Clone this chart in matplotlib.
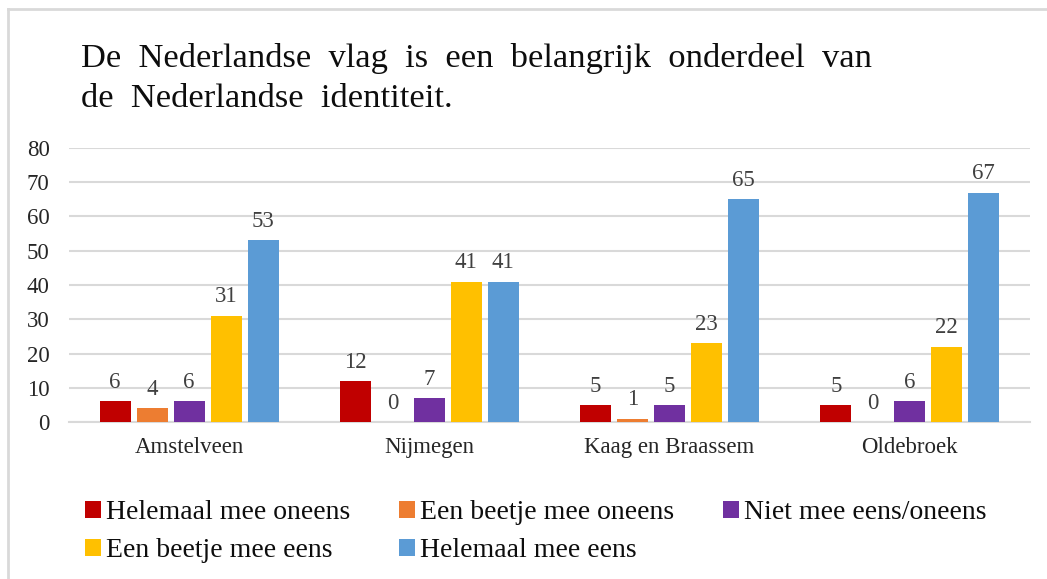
import numpy as np
import matplotlib.pyplot as plt
from matplotlib.lines import Line2D

plt.rcParams['font.family'] = ['Liberation Serif', 'DejaVu Serif']

# Gegevens
gemeenten = ['Amstelveen', 'Nijmegen', 'Kaag en Braassem', 'Oldebroek']
antwoorden = ['Helemaal mee oneens', 'Een beetje mee oneens', 'Niet mee eens/oneens',
              'Een beetje mee eens', 'Helemaal mee eens']
helemaal_oneens = [6, 12, 5, 5]
beetje_oneens = [4, 0, 1, 0]
neutraal = [6, 7, 5, 6]
beetje_eens = [31, 41, 23, 22]
helemaal_eens = [53, 41, 65, 67]
yticks = [0, 10, 20, 30, 40, 50, 60, 70, 80]

reeksen = [helemaal_oneens, beetje_oneens, neutraal, beetje_eens, helemaal_eens]
kleuren = ['#C00000', '#ED7D31', '#7030A0', '#FFC000', '#5B9BD5']

W, H = 1047, 579
fig = plt.figure(figsize=(W / 100, H / 100), dpi=100)
ax = fig.add_axes([69 / W, 1 - 422 / H, 961 / W, 274 / H])

x = np.arange(len(gemeenten))
breedte = 0.13
stap = 0.154
handles = []
for i, (waarden, kleur) in enumerate(zip(reeksen, kleuren)):
    bars = ax.bar(x + (i - 2) * stap, waarden, breedte, color=kleur, zorder=3,
                  label=antwoorden[i])
    ax.bar_label(bars, padding=6, fontsize=16.5, color='#404040')
    handles.append(bars)

ax.set_xlim(-0.5, len(gemeenten) - 0.5)
ax.set_ylim(0, 80)
ax.set_yticks(yticks)
ax.set_xticks(x)
ax.set_xticklabels(gemeenten)
ax.tick_params(axis='both', length=0, labelsize=16.5)
ax.tick_params(axis='y', pad=14)
ax.tick_params(axis='x', pad=11)
for lab in ax.get_xticklabels() + ax.get_yticklabels():
    lab.set_color('#262626')
ax.grid(axis='y', color='#d9d9d9', linewidth=1.5, zorder=0)
for s in ['top', 'right', 'left']:
    ax.spines[s].set_visible(False)
ax.spines['bottom'].set_color('#d9d9d9')
ax.spines['bottom'].set_linewidth(1.5)

# Titel (twee regels, uitgevuld zoals in het origineel)
fig.text(81 / W, 1 - 67 / H, 'De  Nederlandse  vlag  is  een  belangrijk  onderdeel  van',
         fontsize=24.8, va='baseline', ha='left', color='#0d0d0d')
fig.text(81 / W, 1 - 107 / H, 'de  Nederlandse  identiteit.',
         fontsize=24.8, va='baseline', ha='left', color='#0d0d0d')

# Legenda, rij voor rij
volgorde = [0, 3, 1, 4, 2]
fig.legend([handles[i] for i in volgorde], [antwoorden[i] for i in volgorde],
           ncol=3, loc='upper left', bbox_to_anchor=(85 / W, 1 - 500 / H),
           frameon=False, fontsize=20, handlelength=0.58, handleheight=0.58,
           handletextpad=0.18, columnspacing=1.75, labelspacing=0.48,
           borderaxespad=0, borderpad=0, labelcolor='#0d0d0d')

# Kader
fig.add_artist(Line2D([7.5 / W, 7.5 / W], [0, 1 - 9 / H], color='#d9d9d9', lw=2,
                      transform=fig.transFigure))
fig.add_artist(Line2D([7.5 / W, 1], [1 - 9 / H, 1 - 9 / H], color='#d9d9d9', lw=2,
                      transform=fig.transFigure))

fig.savefig('out.png', dpi=100)
